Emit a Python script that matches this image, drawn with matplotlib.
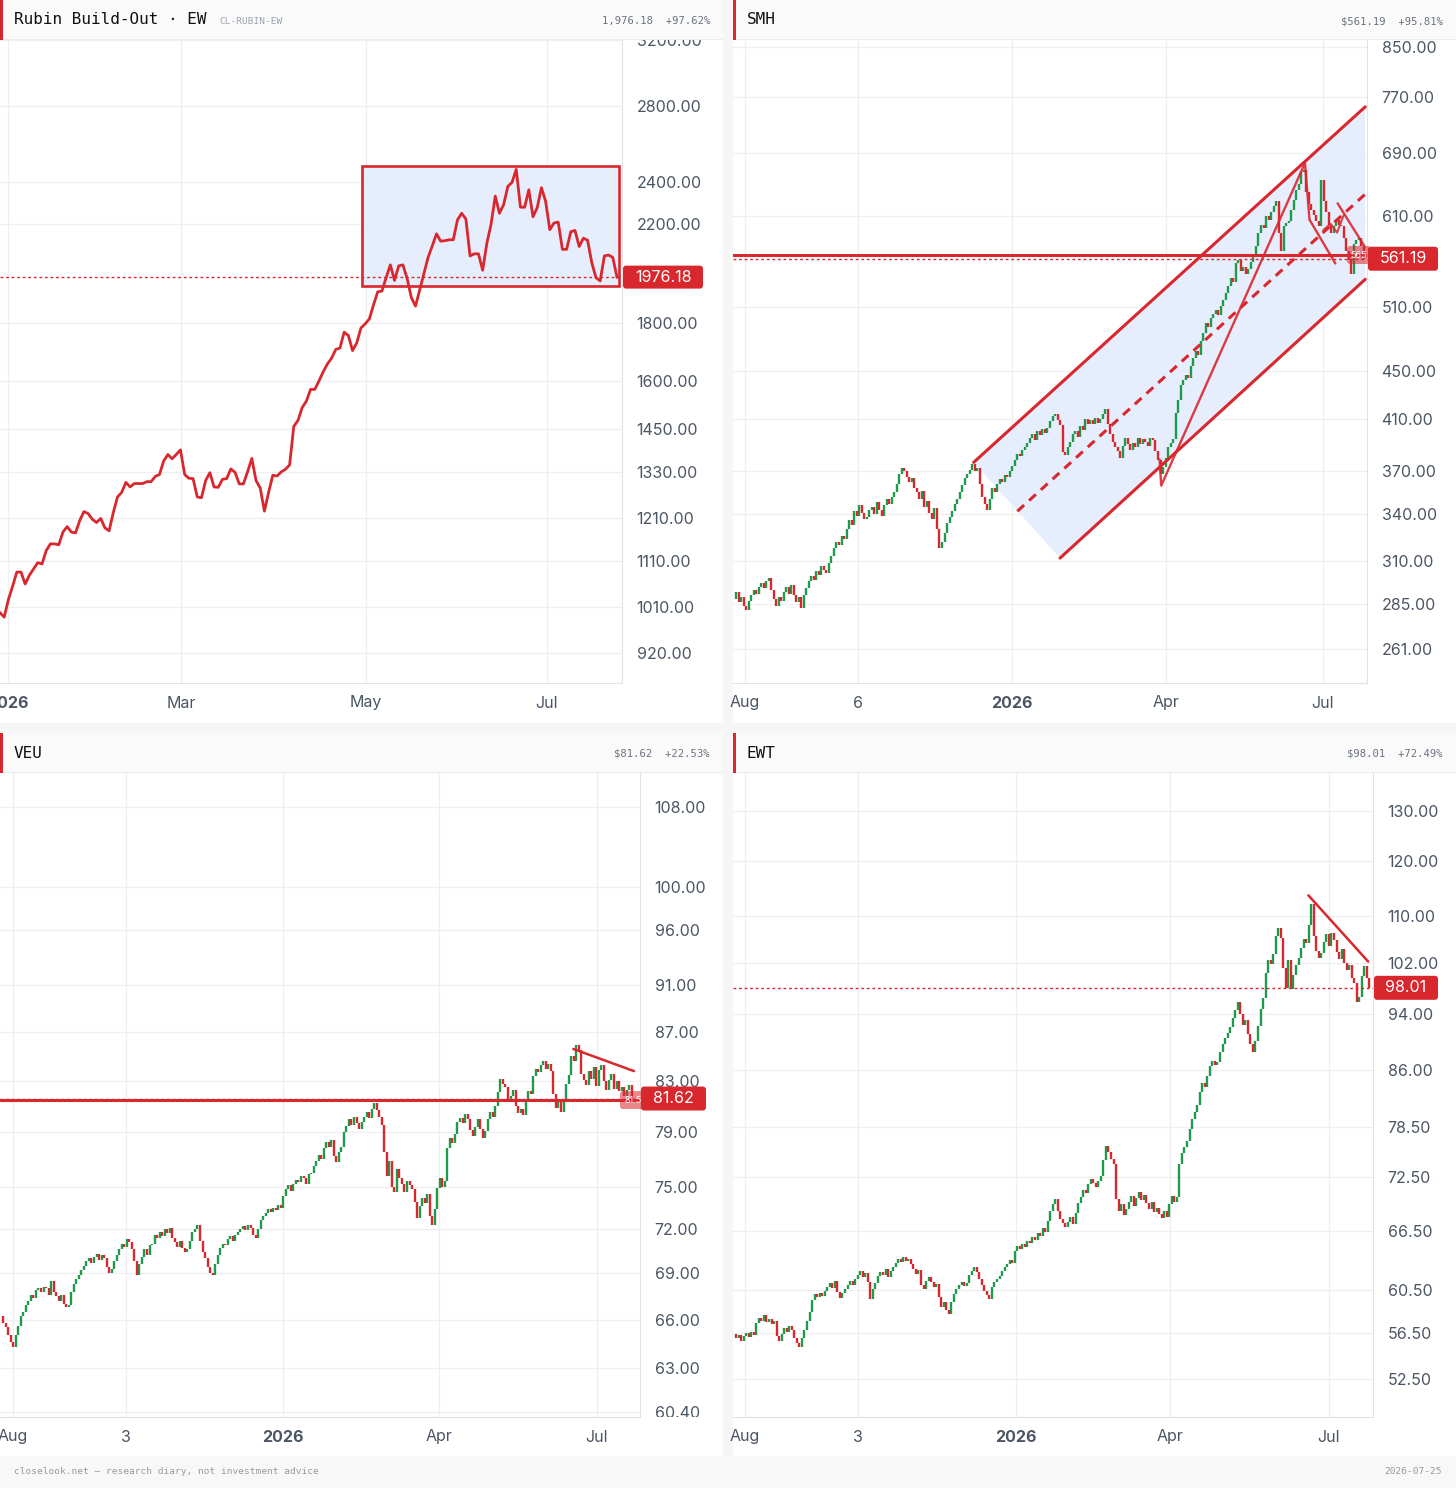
import numpy as np
import matplotlib.pyplot as plt
from matplotlib.patches import Rectangle, FancyBboxPatch, Polygon
from matplotlib.transforms import IdentityTransform
from matplotlib.ticker import NullLocator, NullFormatter

# ---------------- data ----------------
# Rubin Build-Out equal-weight basket, daily close (line)
rubin_close = [
    999, 990, 1026, 1054, 1085, 1085, 1059, 1078, 1092, 1106,
    1103, 1133, 1149, 1149, 1147, 1177, 1190, 1177, 1175, 1205,
    1227, 1222, 1208, 1200, 1210, 1187, 1180, 1225, 1264, 1276,
    1302, 1290, 1299, 1299, 1299, 1304, 1304, 1318, 1323, 1360,
    1378, 1366, 1378, 1391, 1323, 1313, 1312, 1264, 1262, 1307,
    1328, 1290, 1289, 1310, 1312, 1338, 1329, 1298, 1298, 1331,
    1367, 1307, 1287, 1228, 1276, 1321, 1319, 1330, 1337, 1349,
    1459, 1477, 1516, 1536, 1573, 1573, 1600, 1630, 1656, 1676,
    1706, 1711, 1767, 1755, 1702, 1729, 1782, 1797, 1815, 1868,
    1918, 1921, 1974, 2026, 1963, 2022, 2026, 1971, 1896, 1863,
    1925, 1989, 2057, 2106, 2158, 2126, 2128, 2132, 2132, 2220,
    2250, 2224, 2063, 2072, 2072, 2004, 2117, 2200, 2330, 2250,
    2290, 2376, 2396, 2460, 2278, 2278, 2360, 2234, 2276, 2370,
    2306, 2176, 2206, 2210, 2091, 2091, 2167, 2173, 2103, 2139,
    2130, 2035, 1974, 1961, 2063, 2067, 2057, 1976.18]
rubin_range = [1940, 2475]
rubin_yticks = [3200, 2800, 2400, 2200, 1800, 1600, 1450, 1330, 1210, 1110, 1010, 920]
rubin_xlabels = ['2026', 'Mar', 'May', 'Jul']

smh_close = [
    288, 292, 286, 289, 284, 282, 287, 290, 293, 291,
    295, 297, 294, 298, 300, 293, 288, 284, 289, 287,
    292, 295, 291, 296, 290, 286, 289, 283, 290, 294,
    298, 301, 299, 304, 302, 307, 305, 303, 309, 313,
    318, 322, 320, 326, 324, 330, 336, 333, 342, 339,
    346, 341, 337, 338, 343, 345, 340, 348, 343, 339,
    346, 350, 347, 352, 355, 361, 368, 372, 370, 366,
    362, 365, 358, 355, 350, 356, 345, 349, 341, 337,
    344, 330, 318, 322, 328, 334, 338, 342, 347, 350,
    355, 360, 365, 368, 371, 375, 370, 372, 361, 352,
    347, 343, 350, 358, 355, 361, 364, 362, 367, 366,
    370, 374, 378, 383, 381, 386, 388, 391, 395, 398,
    393, 400, 397, 402, 399, 403, 408, 412, 414, 409,
    405, 384, 382, 388, 392, 398, 400, 396, 404, 401,
    410, 406, 409, 406, 411, 407, 410, 414, 418, 406,
    398, 392, 388, 385, 380, 389, 395, 390, 386, 391,
    388, 395, 390, 394, 392, 389, 395, 393, 385, 378,
    368, 373, 380, 388, 391, 394, 415, 425, 438, 442,
    447, 444, 455, 462, 468, 465, 478, 485, 495, 491,
    500, 504, 508, 503, 512, 518, 525, 532, 540, 536,
    556, 560, 548, 552, 545, 550, 558, 565, 575, 590,
    600, 596, 610, 605, 615, 622, 628, 590, 570, 598,
    602, 604, 618, 630, 642, 650, 665, 668, 640, 625,
    618, 612, 604, 598, 655, 628, 615, 600, 590, 598,
    605, 600, 598, 585, 570, 560, 545, 578, 582, 585,
    575, 561.19]
smh_yticks = [850, 770, 690, 610, 510, 450, 410, 370, 340, 310, 285, 261]
smh_xlabels = ['Aug', '6', '2026', 'Apr', 'Jul']
# drawn channel (index, price)
smh_upper = [(95.6, 376.4), (251.5, 756)]
smh_lower = [(130, 312), (251.5, 539)]
smh_mid = [(113, 342), (251.5, 637)]
smh_zig = [(169.6, 378.6), (170.3, 359.7), (227.5, 677), (229.3, 606), (239.6, 556)]
smh_flag = [(240.5, 625.6), (251.3, 574.6)]
smh_x = [(234.8, 593.6), (237.7, 601), (240.3, 590.7), (242.9, 611)]
smh_level = 565.3

veu_close = [
    66.2, 65.8, 65.5, 65.0, 64.6, 64.3, 65.0, 65.6, 66.2, 66.5,
    66.9, 67.2, 67.6, 67.4, 67.9, 68.0, 67.8, 68.1, 68.0, 67.6,
    68.5, 67.8, 67.5, 67.2, 67.6, 67.0, 66.8, 66.9, 67.8, 68.3,
    68.6, 68.9, 69.2, 69.5, 69.8, 70.0, 69.7, 70.1, 70.3, 69.9,
    70.2, 70.0, 69.4, 69.0, 69.3, 69.8, 70.2, 70.6, 71.0, 70.8,
    71.3, 71.1, 70.6, 69.8, 68.9, 69.6, 70.1, 70.6, 70.2, 70.9,
    71.0, 71.6, 71.4, 71.8, 71.5, 72.0, 71.7, 72.1, 71.4, 71.1,
    70.8, 71.2, 70.7, 70.4, 70.6, 71.2, 71.8, 72.0, 72.3, 71.2,
    70.4, 70.0, 69.4, 69.0, 68.9, 69.6, 70.2, 70.7, 71.0, 70.9,
    71.3, 71.5, 71.2, 71.6, 71.8, 72.0, 72.2, 71.9, 72.3, 72.1,
    71.6, 71.4, 72.0, 72.6, 72.9, 73.1, 73.4, 73.2, 73.5, 73.3,
    73.7, 73.5, 74.3, 74.8, 75.1, 74.7, 75.2, 75.5, 75.3, 75.8,
    75.6, 75.2, 75.9, 76.0, 76.5, 76.9, 77.3, 77.0, 77.8, 78.3,
    77.9, 78.4, 77.2, 76.8, 77.5, 77.9, 79.0, 79.5, 80.0, 79.6,
    80.2, 79.7, 79.3, 79.8, 80.2, 80.6, 80.1, 80.8, 81.3, 80.7,
    80.2, 79.6, 77.5, 75.8, 76.9, 75.0, 74.6, 76.3, 75.6, 75.2,
    74.6, 75.4, 75.1, 74.8, 73.9, 72.8, 73.6, 74.2, 73.8, 74.5,
    72.9, 72.3, 73.4, 74.9, 75.6, 75.0, 75.4, 77.8, 78.6, 78.2,
    78.9, 79.8, 80.1, 79.7, 80.4, 80.0, 79.2, 78.7, 79.4, 80.0,
    79.3, 78.6, 79.1, 80.0, 80.6, 80.2, 81.0, 82.1, 83.2, 82.8,
    82.5, 81.4, 81.8, 82.3, 81.0, 80.5, 80.8, 80.3, 81.5, 82.2,
    82.0, 83.4, 84.0, 83.7, 84.3, 84.6, 84.0, 84.4, 83.8, 82.0,
    80.9, 81.6, 80.6, 81.4, 82.8, 83.5, 85.0, 84.6, 85.9, 85.5,
    83.6, 83.1, 82.7, 83.8, 83.2, 84.1, 82.6, 83.9, 84.3, 83.0,
    82.3, 83.1, 83.6, 82.4, 83.0, 82.2, 82.5, 81.8, 82.3, 82.7,
    81.62]
veu_yticks = [108, 100, 96, 91, 87, 83, 79, 75, 72, 69, 66, 63, 60.4]
veu_xlabels = ['Aug', '3', '2026', 'Apr', 'Jul']
veu_trend = [(226.9, 85.6), (250.9, 83.8)]
veu_level = 81.5

ewt_close = [
    56.4, 56.0, 56.3, 55.8, 56.2, 56.5, 56.1, 56.6, 56.3, 57.4,
    57.9, 57.6, 58.1, 57.5, 57.8, 57.3, 57.6, 56.2, 55.8, 56.4,
    56.9, 56.6, 57.1, 56.8, 56.0, 55.6, 55.2, 56.0, 56.8, 57.6,
    58.4, 59.5, 60.1, 59.8, 60.2, 59.9, 60.4, 60.8, 61.2, 60.7,
    61.4, 60.3, 59.7, 60.2, 60.6, 61.0, 61.4, 61.0, 61.6, 62.0,
    62.4, 61.8, 62.2, 61.3, 59.6, 60.6, 61.2, 61.9, 62.3, 62.0,
    62.6, 61.8, 62.4, 62.8, 63.2, 63.6, 63.3, 63.8, 63.4, 63.6,
    63.1, 62.6, 62.1, 62.5, 61.0, 60.6, 61.4, 61.8, 61.3, 60.8,
    61.1, 59.8, 58.9, 59.4, 58.6, 58.2, 59.4, 60.1, 60.6, 61.0,
    61.3, 60.9, 61.2, 62.0, 62.4, 62.8, 62.3, 61.6, 61.0, 60.4,
    60.0, 59.6, 60.8, 61.3, 61.6, 61.9, 62.4, 62.8, 63.1, 63.5,
    63.2, 64.4, 64.9, 64.6, 65.1, 64.8, 65.4, 65.2, 65.8, 65.5,
    66.3, 66.0, 66.8, 66.4, 67.5, 68.6, 69.4, 70.0, 68.6, 67.8,
    67.3, 66.9, 67.4, 68.0, 67.2, 68.4, 69.5, 70.2, 71.0, 70.6,
    71.6, 72.2, 71.8, 71.3, 72.0, 72.6, 74.5, 76.1, 75.4, 74.6,
    74.0, 70.0, 68.6, 69.4, 68.2, 68.9, 69.6, 70.3, 69.2, 70.1,
    70.7, 69.8, 70.4, 69.5, 68.8, 69.6, 68.5, 69.0, 68.3, 67.9,
    68.6, 68.0, 69.4, 70.3, 69.6, 70.2, 74.0, 75.3, 76.0, 76.8,
    78.2, 79.5, 80.4, 81.3, 83.0, 84.2, 83.6, 85.1, 86.5, 87.2,
    86.6, 87.0, 88.4, 89.6, 90.5, 91.2, 92.0, 93.4, 94.6, 95.8,
    94.0, 92.4, 93.1, 91.0, 89.6, 88.4, 90.0, 92.2, 94.8, 96.5,
    100.3, 102.5, 101.8, 103.4, 106.5, 107.8, 106.2, 101.2, 98.0, 102.5,
    97.8, 100.0, 101.6, 102.8, 104.5, 106.0, 105.2, 108.4, 112.0, 106.5,
    104.0, 102.8, 103.6, 105.5, 106.8, 104.7, 107.0, 105.8, 103.8, 102.6,
    104.2, 102.0, 100.8, 101.6, 99.6, 98.8, 95.8, 96.6, 99.8, 101.5,
    99.6, 98.01]
ewt_yticks = [130, 120, 110, 102, 94, 86, 78.5, 72.5, 66.5, 60.5, 56.5, 52.5]
ewt_xlabels = ['Aug', '3', '2026', 'Apr', 'Jul']
ewt_trend = [(226.9, 113.6), (250.5, 102.2)]

# ---------------- styling ----------------
W, H = 1456, 1488
RED = '#d9272e'
GREEN = '#1f9a4a'
BOXFILL = '#e6edfc'
GRID = '#efefef'
TXT = '#4b5563'
MONO = 'DejaVu Sans Mono'
plt.rcParams['font.family'] = ['Inter', 'DejaVu Sans']

fig = plt.figure(figsize=(W / 100, H / 100), dpi=100, facecolor='#f6f6f6')


def fig_rect(x0, y0, x1, y1, color, z):
    fig.add_artist(Rectangle((x0 / W, 1 - y1 / H), (x1 - x0) / W, (y1 - y0) / H,
                             transform=fig.transFigure, facecolor=color,
                             edgecolor='none', zorder=z))


def panel(x0, y0, title, price, sub=None):
    fig_rect(x0, y0, x0 + 723, y0 + 723, 'white', -5)
    fig_rect(x0, y0, x0 + 723, y0 + 40, '#fafafa', 5)
    fig_rect(x0, y0 + 39, x0 + 723, y0 + 40, '#ececec', 5)
    fig_rect(x0, y0, x0 + 3, y0 + 40, RED, 6)
    fig.text((x0 + 14) / W, 1 - (y0 + 20) / H, title, family=MONO, fontsize=11.5,
             color='#111111', va='center', zorder=7)
    if sub:
        fig.text((x0 + 219) / W, 1 - (y0 + 21) / H, sub, family=MONO, fontsize=6.8,
                 color='#9ca3af', va='center', zorder=7)
    fig.text((x0 + 710) / W, 1 - (y0 + 21) / H, price, family=MONO, fontsize=7.6,
             color='#6b7280', va='center', ha='right', zorder=7)


def make_ax(x0, y0, x1, y1):
    return fig.add_axes([x0 / W, 1 - y1 / H, (x1 - x0) / W, (y1 - y0) / H])


def setup(ax, xlim, ylim, yticks, xticks, xlabels):
    ax.set_yscale('log')
    ax.set_xlim(*xlim)
    ax.set_ylim(*ylim)
    ax.set_yticks(yticks)
    ax.set_yticklabels([f'{v:.2f}' for v in yticks])
    ax.yaxis.set_minor_locator(NullLocator())
    ax.yaxis.set_minor_formatter(NullFormatter())
    ax.yaxis.tick_right()
    ax.set_xticks(xticks)
    ax.set_xticklabels(xlabels)
    ax.tick_params(length=0, labelsize=11.5, labelcolor=TXT)
    ax.tick_params(axis='y', pad=10.5)
    ax.tick_params(axis='x', pad=9)
    ax.grid(True, color=GRID, lw=0.9)
    ax.set_axisbelow(True)
    for s in ['top', 'left']:
        ax.spines[s].set_visible(False)
    for s in ['right', 'bottom']:
        ax.spines[s].set_color('#e2e2e2')
    for lbl in ax.get_xticklabels():
        if lbl.get_text() == '2026':
            lbl.set_fontweight('bold')


def candles(ax, closes):
    c = np.asarray(closes, float)
    o = np.r_[c[0], c[:-1]]
    x = np.arange(len(c))
    up = c >= o
    ax.vlines(x[up], o[up], c[up], color=GREEN, lw=1.7, zorder=2)
    ax.vlines(x[~up], o[~up], c[~up], color=RED, lw=1.7, zorder=2)


def tag(ax, value, text, w, h=24, dx=1, alpha=1.0, size=11.5):
    xr, _ = ax.transAxes.transform((1, 0))
    _, yv = ax.transData.transform((0, value))
    fig.add_artist(FancyBboxPatch((xr + dx, yv - h / 2), w, h,
                                  boxstyle='round,pad=0,rounding_size=3',
                                  transform=IdentityTransform(), facecolor=RED,
                                  edgecolor='none', alpha=alpha, zorder=6))
    fig.text(xr + dx + w / 2, yv, text, transform=IdentityTransform(), color='white',
             fontsize=size, ha='center', va='center', zorder=7)


def seg(ax, pts, **kw):
    xs, ys = zip(*pts)
    ax.plot(xs, ys, color=RED, solid_capstyle='round', zorder=3, **kw)


# ---------------- panel 1: Rubin basket ----------------
panel(0, 0, 'Rubin Build-Out · EW', '1,976.18  +97.62%', sub='CL-RUBIN-EW')
ax1 = make_ax(0, 40, 622, 683)
setup(ax1, (0, 148.2), (866, 3200), rubin_yticks, [1.9, 43.1, 87.2, 130.3], rubin_xlabels)
ax1.add_patch(Rectangle((86.3, rubin_range[0]), 147.5 - 86.3, rubin_range[1] - rubin_range[0],
                        facecolor=BOXFILL, edgecolor=RED, lw=1.9, zorder=1))
ax1.plot(np.arange(len(rubin_close)), rubin_close, color=RED, lw=2.0, zorder=3)
ax1.axhline(rubin_close[-1], color=RED, lw=1.0, ls=(0, (2, 2)), zorder=2)
tag(ax1, rubin_close[-1], '1976.18', 80, h=23)

# ---------------- panel 2: SMH ----------------
panel(733, 0, 'SMH', '$561.19  +95.81%')
ax2 = make_ax(733, 40, 1367, 683)
setup(ax2, (-0.2, 252.2), (244.2, 861.8), smh_yticks, [4.6, 49.6, 110.8, 172.2, 234.6], smh_xlabels)
poly = [smh_upper[0], smh_upper[1], smh_lower[1], smh_lower[0]]
ax2.add_patch(Polygon(poly, closed=True, facecolor=BOXFILL, edgecolor='none', zorder=1))
candles(ax2, smh_close)
seg(ax2, smh_upper, lw=2.2)
seg(ax2, smh_lower, lw=2.2)
seg(ax2, smh_mid, lw=2.2, ls=(0, (3, 2.2)))
seg(ax2, smh_zig, lw=1.7, alpha=0.9)
seg(ax2, smh_flag, lw=1.7, alpha=0.9)
seg(ax2, smh_x, lw=1.5, alpha=0.85)
ax2.axhline(smh_level, color=RED, lw=2.2, zorder=3)
ax2.axhline(smh_close[-1], color=RED, lw=1.0, ls=(0, (2, 2)), zorder=3)
tag(ax2, smh_level, '565', 24, h=18, dx=-20, alpha=0.55, size=6.5)
tag(ax2, smh_close[-1], '561.19', 70)

# ---------------- panel 3: VEU ----------------
panel(0, 733, 'VEU', '$81.62  +22.53%')
ax3 = make_ax(0, 773, 640, 1417)
setup(ax3, (-0.24, 253.3), (60.1, 111.6), veu_yticks, [4.9, 49.5, 111.8, 173.6, 236.2], veu_xlabels)
candles(ax3, veu_close)
ax3.axhline(veu_level, color=RED, lw=2.2, zorder=3)
ax3.axhline(veu_close[-1], color=RED, lw=1.0, ls=(0, (2, 2)), zorder=3)
seg(ax3, veu_trend, lw=1.8)
tag(ax3, veu_level, '81.5', 26, h=18, dx=-20, alpha=0.55, size=6.5)
tag(ax3, veu_close[-1], '81.62', 65)
fig_rect(641, 1417, 722, 1426, 'white', 5)

# ---------------- panel 4: EWT ----------------
panel(733, 733, 'EWT', '$98.01  +72.49%')
ax4 = make_ax(733, 773, 1373, 1417)
setup(ax4, (-0.2, 252.4), (49.4, 138.1), ewt_yticks, [4.5, 49.1, 111.3, 172.4, 234.9], ewt_xlabels)
candles(ax4, ewt_close)
ax4.axhline(ewt_close[-1], color=RED, lw=1.0, ls=(0, (2, 2)), zorder=3)
seg(ax4, ewt_trend, lw=1.8)
tag(ax4, ewt_close[-1], '98.01', 64)

# ---------------- footer ----------------
fig_rect(0, 1457, W, H, '#f8f8f8', -4)
fig.text(14 / W, 1 - 1472 / H, 'closelook.net — research diary, not investment advice',
         family=MONO, fontsize=6.8, color='#9a9a9a', va='center')
fig.text(1442 / W, 1 - 1472 / H, '2026-07-25', family=MONO, fontsize=6.8,
         color='#9a9a9a', va='center', ha='right')

fig.savefig('out.png', dpi=100, facecolor=fig.get_facecolor())
